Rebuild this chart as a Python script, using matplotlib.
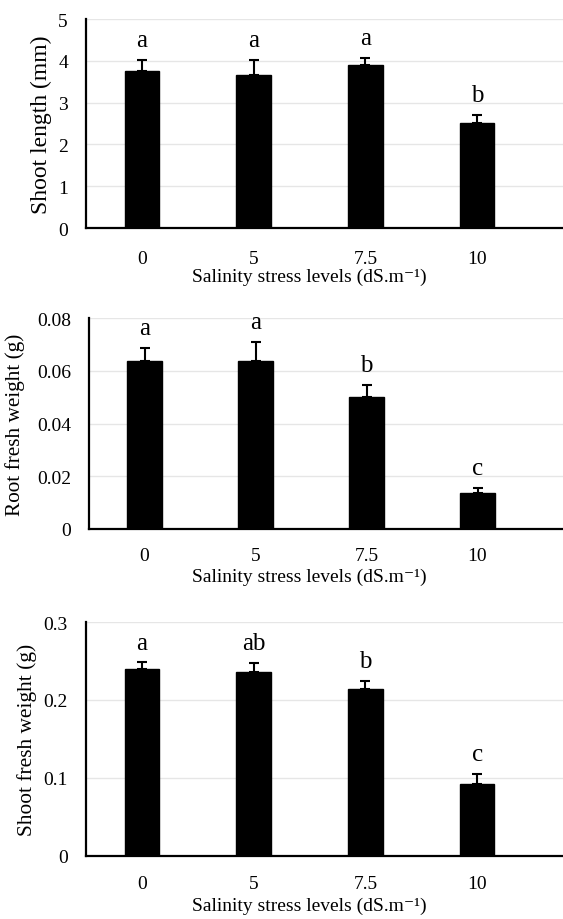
import matplotlib
matplotlib.use("Agg")
import matplotlib.pyplot as plt
import numpy as np

plt.rcParams['font.family'] = ['Liberation Serif', 'DejaVu Serif']

# data
levels = ['0', '5', '7.5', '10']

shoot_length = [3.76, 3.65, 3.90, 2.52]
shoot_length_se = [0.25, 0.37, 0.16, 0.18]
shoot_length_grp = ['a', 'a', 'a', 'b']

root_fw = [0.0638, 0.0638, 0.0500, 0.0137]
root_fw_se = [0.0048, 0.0070, 0.0047, 0.0020]
root_fw_grp = ['a', 'a', 'b', 'c']

shoot_fw = [0.2397, 0.2363, 0.2137, 0.0927]
shoot_fw_se = [0.0085, 0.0107, 0.0111, 0.0124]
shoot_fw_grp = ['a', 'ab', 'b', 'c']

W, H = 563, 920
fig = plt.figure(figsize=(W / 100, H / 100), dpi=100)

xlab = 'Salinity stress levels (dS.m\u207b\u00b9)'

panels = [
    # values, errors, letters, ylabel, ylim, yticks, yticklabels,
    # box (left, right, top, bottom in px), ylabel size, ylabel x, xlabel y, x tick pad
    (shoot_length, shoot_length_se, shoot_length_grp, 'Shoot length (mm)',
     (0, 5), [0, 1, 2, 3, 4, 5], ['0', '1', '2', '3', '4', '5'],
     (86, 563, 20, 229), 17, 41, 277, 16),
    (root_fw, root_fw_se, root_fw_grp, 'Root fresh weight (g)',
     (0, 0.08), [0, 0.02, 0.04, 0.06, 0.08], ['0', '0.02', '0.04', '0.06', '0.08'],
     (89, 563, 319, 530), 15.3, 15, 577, 13),
    (shoot_fw, shoot_fw_se, shoot_fw_grp, 'Shoot fresh weight (g)',
     (0, 0.3), [0, 0.1, 0.2, 0.3], ['0', '0.1', '0.2', '0.3'],
     (86, 563, 623, 857), 15.4, 27, 906, 14),
]

for vals, errs, grps, ylab, ylim, yt, ytl, box, ysize, ylx, xly, xpad in panels:
    l, r, t, b = box
    ax = fig.add_axes([l / W, 1 - b / H, (r - l) / W, (b - t) / H])
    x = np.arange(len(levels))
    ax.bar(x, vals, width=0.31, color='black', edgecolor='black', zorder=3)
    ax.errorbar(x, vals, yerr=[np.zeros(len(errs)), errs], fmt='none',
                ecolor='black', elinewidth=1.5, capsize=3.5, capthick=1.5, zorder=4)
    for xi, v, e, g in zip(x, vals, errs, grps):
        ax.annotate(g, (xi, v + e), xytext=(0, 10), textcoords='offset points',
                    ha='center', va='baseline', fontsize=18)
    # plot area in the reference ends at x=533 px but the axis runs to the edge
    step = (533 - l) / 4.0
    ax.set_xlim(-0.5, -0.5 + (r - l) / step)
    ax.set_ylim(*ylim)
    ax.set_xticks(x)
    ax.set_xticklabels(levels)
    ax.set_yticks(yt)
    ax.set_yticklabels(ytl)
    ax.tick_params(length=0, labelsize=14)
    ax.tick_params(axis='y', pad=13)
    ax.tick_params(axis='x', pad=xpad)
    ax.grid(axis='y', color='#e6e6e6', linewidth=1, zorder=0)
    for s in ['top', 'right']:
        ax.spines[s].set_visible(False)
    for s in ['left', 'bottom']:
        ax.spines[s].set_linewidth(1.6)
        ax.spines[s].set_zorder(5)
    ax.set_ylabel(ylab, fontsize=ysize, va='center')
    ax.yaxis.set_label_coords((ylx - l) / (r - l), 0.5)
    ax.set_xlabel(xlab, fontsize=14, va='center')
    ax.xaxis.set_label_coords((309 - l) / (r - l), -(xly - b) / (b - t))

fig.savefig('out.png', dpi=100)
